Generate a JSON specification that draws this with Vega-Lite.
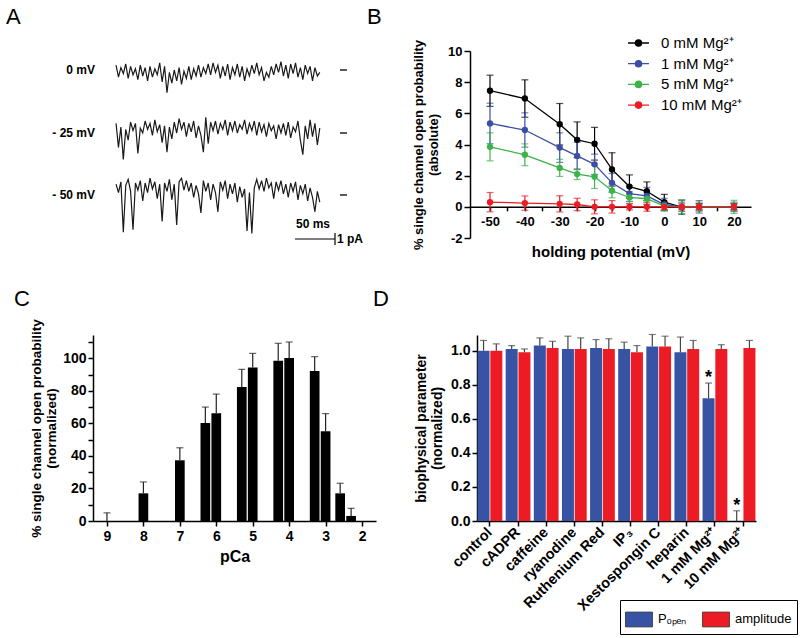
{
"$schema":"https://vega.github.io/schema/vega-lite/v6.json",
"background":"white",
"padding":{"left":6,"top":6,"right":0,"bottom":0},
"config":{
 "font":"Liberation Sans",
 "view":{"stroke":null},
 "axis":{"domainColor":"black","domainWidth":1.5,"tickColor":"black","tickWidth":1.5,"labelColor":"black","labelFontWeight":"bold","labelFontSize":13,"titleColor":"black","titleFontWeight":"bold","grid":false,"labelOverlap":false,"titleLimit":400},
 "text":{"color":"black"}
},
"resolve":{"scale":{"color":"independent"},"legend":{"color":"independent"}},
"datasets":{
 "one":[{}],
 "tr0":[{"t":0,"i":0.4},{"t":3,"i":-0.6},{"t":6,"i":0.2},{"t":9,"i":-0.3},{"t":12,"i":0.5},{"t":15,"i":-0.7},{"t":18,"i":0.3},{"t":21,"i":-0.4},{"t":24,"i":0.1},{"t":27,"i":-0.8},{"t":30,"i":0.4},{"t":33,"i":-0.5},{"t":36,"i":0.2},{"t":39,"i":-0.9},{"t":42,"i":0.3},{"t":45,"i":-0.6},{"t":48,"i":0.1},{"t":51,"i":-0.4},{"t":54,"i":0.6},{"t":57,"i":-1.0},{"t":60,"i":0.3},{"t":63,"i":-1.9},{"t":66,"i":-0.2},{"t":69,"i":-1.1},{"t":72,"i":0.0},{"t":75,"i":-0.9},{"t":78,"i":0.2},{"t":81,"i":-1.2},{"t":84,"i":-0.1},{"t":87,"i":-0.7},{"t":90,"i":0.3},{"t":93,"i":-0.8},{"t":96,"i":0.1},{"t":99,"i":-0.5},{"t":102,"i":0.4},{"t":105,"i":-0.6},{"t":108,"i":0.2},{"t":111,"i":-0.3},{"t":114,"i":0.5},{"t":117,"i":-0.4},{"t":120,"i":0.6},{"t":123,"i":-0.2},{"t":126,"i":0.4},{"t":129,"i":-0.7},{"t":132,"i":0.3},{"t":135,"i":-0.5},{"t":138,"i":0.5},{"t":141,"i":-0.8},{"t":144,"i":0.2},{"t":147,"i":-0.4},{"t":150,"i":0.5},{"t":153,"i":-0.6},{"t":156,"i":0.3},{"t":159,"i":-0.9},{"t":162,"i":0.1},{"t":165,"i":-0.5},{"t":168,"i":0.4},{"t":171,"i":-0.3},{"t":174,"i":0.6},{"t":177,"i":-0.4},{"t":180,"i":0.2},{"t":183,"i":-0.9},{"t":186,"i":-0.2},{"t":189,"i":-0.6},{"t":192,"i":0.3},{"t":195,"i":-0.4},{"t":198,"i":0.5},{"t":201,"i":-0.2},{"t":204,"i":0.7},{"t":207,"i":-0.5},{"t":210,"i":0.4},{"t":213,"i":-0.7},{"t":216,"i":0.5},{"t":219,"i":-0.3},{"t":222,"i":0.6},{"t":225,"i":-0.6},{"t":228,"i":0.2},{"t":231,"i":-0.8},{"t":234,"i":0.4},{"t":237,"i":-0.3},{"t":240,"i":0.3},{"t":243,"i":-0.9},{"t":246,"i":0.2},{"t":249,"i":-0.5},{"t":252,"i":-0.2}],
 "tr25":[{"t":0,"i":0.8},{"t":3,"i":-1.2},{"t":6,"i":0.5},{"t":9,"i":-2.2},{"t":12,"i":0.3},{"t":15,"i":-0.6},{"t":18,"i":0.9},{"t":21,"i":0.2},{"t":24,"i":0.8},{"t":27,"i":-1.7},{"t":30,"i":0.4},{"t":33,"i":0.0},{"t":36,"i":1.0},{"t":39,"i":0.3},{"t":42,"i":0.8},{"t":45,"i":-0.2},{"t":48,"i":1.1},{"t":51,"i":0.1},{"t":54,"i":0.7},{"t":57,"i":-0.8},{"t":60,"i":0.6},{"t":63,"i":-1.6},{"t":66,"i":0.5},{"t":69,"i":-0.5},{"t":72,"i":0.9},{"t":75,"i":0.0},{"t":78,"i":1.2},{"t":81,"i":0.3},{"t":84,"i":0.9},{"t":87,"i":-0.3},{"t":90,"i":0.8},{"t":93,"i":0.1},{"t":96,"i":1.0},{"t":99,"i":-0.4},{"t":102,"i":0.6},{"t":105,"i":-0.2},{"t":108,"i":-1.6},{"t":111,"i":1.3},{"t":114,"i":-0.9},{"t":117,"i":0.9},{"t":120,"i":0.2},{"t":123,"i":1.0},{"t":126,"i":-0.1},{"t":129,"i":0.8},{"t":132,"i":0.3},{"t":135,"i":1.1},{"t":138,"i":-0.2},{"t":141,"i":0.9},{"t":144,"i":0.2},{"t":147,"i":1.0},{"t":150,"i":0.0},{"t":153,"i":0.7},{"t":156,"i":0.3},{"t":159,"i":1.1},{"t":162,"i":-0.1},{"t":165,"i":0.8},{"t":168,"i":0.2},{"t":171,"i":1.0},{"t":174,"i":-0.2},{"t":177,"i":0.9},{"t":180,"i":0.1},{"t":183,"i":0.7},{"t":186,"i":-0.3},{"t":189,"i":0.8},{"t":192,"i":0.2},{"t":195,"i":0.6},{"t":198,"i":-0.5},{"t":201,"i":0.7},{"t":204,"i":0.0},{"t":207,"i":0.8},{"t":210,"i":-0.2},{"t":213,"i":0.9},{"t":216,"i":-0.4},{"t":219,"i":0.5},{"t":222,"i":0.1},{"t":225,"i":1.0},{"t":228,"i":-0.6},{"t":231,"i":-1.8},{"t":234,"i":0.6},{"t":237,"i":-0.5},{"t":240,"i":1.1},{"t":243,"i":-0.3},{"t":246,"i":0.8},{"t":249,"i":-1.0},{"t":252,"i":0.4}],
 "tr50":[{"t":0,"i":0.9},{"t":3,"i":0.2},{"t":6,"i":1.1},{"t":9,"i":-3.1},{"t":12,"i":0.8},{"t":15,"i":1.3},{"t":18,"i":0.3},{"t":21,"i":-2.9},{"t":24,"i":1.0},{"t":27,"i":0.4},{"t":30,"i":1.2},{"t":33,"i":-0.5},{"t":36,"i":1.0},{"t":39,"i":0.2},{"t":42,"i":1.4},{"t":45,"i":0.5},{"t":48,"i":1.1},{"t":51,"i":-0.3},{"t":54,"i":0.9},{"t":57,"i":-2.2},{"t":60,"i":1.0},{"t":63,"i":0.3},{"t":66,"i":1.3},{"t":69,"i":-0.4},{"t":72,"i":0.9},{"t":75,"i":-2.5},{"t":78,"i":1.1},{"t":81,"i":1.4},{"t":84,"i":0.4},{"t":87,"i":1.2},{"t":90,"i":0.3},{"t":93,"i":1.0},{"t":96,"i":-0.2},{"t":99,"i":0.8},{"t":102,"i":0.1},{"t":105,"i":-1.5},{"t":108,"i":1.2},{"t":111,"i":0.3},{"t":114,"i":1.0},{"t":117,"i":-0.4},{"t":120,"i":0.9},{"t":123,"i":0.2},{"t":126,"i":-1.4},{"t":129,"i":1.1},{"t":132,"i":0.4},{"t":135,"i":1.2},{"t":138,"i":-0.3},{"t":141,"i":0.9},{"t":144,"i":0.1},{"t":147,"i":1.0},{"t":150,"i":-0.6},{"t":153,"i":0.7},{"t":156,"i":-0.2},{"t":159,"i":0.5},{"t":162,"i":-3.0},{"t":165,"i":0.2},{"t":168,"i":-3.2},{"t":171,"i":0.6},{"t":174,"i":1.3},{"t":177,"i":0.5},{"t":180,"i":1.2},{"t":183,"i":0.3},{"t":186,"i":1.4},{"t":189,"i":0.6},{"t":192,"i":1.0},{"t":195,"i":-0.3},{"t":198,"i":1.1},{"t":201,"i":0.4},{"t":204,"i":1.2},{"t":207,"i":0.1},{"t":210,"i":0.9},{"t":213,"i":-0.2},{"t":216,"i":1.0},{"t":219,"i":0.3},{"t":222,"i":1.1},{"t":225,"i":-0.4},{"t":228,"i":0.8},{"t":231,"i":0.1},{"t":234,"i":0.9},{"t":237,"i":-0.5},{"t":240,"i":0.6},{"t":243,"i":-0.2},{"t":246,"i":-1.4},{"t":249,"i":0.3},{"t":252,"i":-0.6}],
 "pb":[
  {"mg":"0 mM Mg²⁺","v":-50,"p":7.45,"e":1.0},{"mg":"0 mM Mg²⁺","v":-40,"p":6.95,"e":1.2},{"mg":"0 mM Mg²⁺","v":-30,"p":5.3,"e":1.33},{"mg":"0 mM Mg²⁺","v":-25,"p":4.3,"e":1.15},{"mg":"0 mM Mg²⁺","v":-20,"p":4.05,"e":1.05},{"mg":"0 mM Mg²⁺","v":-15,"p":2.4,"e":1.07},{"mg":"0 mM Mg²⁺","v":-10,"p":1.3,"e":0.75},{"mg":"0 mM Mg²⁺","v":-5,"p":1.0,"e":0.6},{"mg":"0 mM Mg²⁺","v":0,"p":0.3,"e":0.5},{"mg":"0 mM Mg²⁺","v":5,"p":-0.02,"e":0.45},{"mg":"0 mM Mg²⁺","v":10,"p":0,"e":0.2},{"mg":"0 mM Mg²⁺","v":20,"p":0,"e":0.2},
  {"mg":"1 mM Mg²⁺","v":-50,"p":5.35,"e":1.3},{"mg":"1 mM Mg²⁺","v":-40,"p":4.93,"e":1.1},{"mg":"1 mM Mg²⁺","v":-30,"p":3.8,"e":0.95},{"mg":"1 mM Mg²⁺","v":-25,"p":3.27,"e":0.88},{"mg":"1 mM Mg²⁺","v":-20,"p":2.73,"e":0.65},{"mg":"1 mM Mg²⁺","v":-15,"p":1.54,"e":0.6},{"mg":"1 mM Mg²⁺","v":-10,"p":0.85,"e":0.5},{"mg":"1 mM Mg²⁺","v":-5,"p":0.7,"e":0.55},{"mg":"1 mM Mg²⁺","v":0,"p":0.15,"e":0.4},{"mg":"1 mM Mg²⁺","v":5,"p":0,"e":0.3},{"mg":"1 mM Mg²⁺","v":10,"p":0,"e":0.4},{"mg":"1 mM Mg²⁺","v":20,"p":0,"e":0.3},
  {"mg":"5 mM Mg²⁺","v":-50,"p":3.85,"e":0.9},{"mg":"5 mM Mg²⁺","v":-40,"p":3.34,"e":0.7},{"mg":"5 mM Mg²⁺","v":-30,"p":2.5,"e":0.55},{"mg":"5 mM Mg²⁺","v":-25,"p":2.1,"e":0.35},{"mg":"5 mM Mg²⁺","v":-20,"p":1.93,"e":0.75},{"mg":"5 mM Mg²⁺","v":-15,"p":1.03,"e":0.45},{"mg":"5 mM Mg²⁺","v":-10,"p":0.6,"e":0.37},{"mg":"5 mM Mg²⁺","v":-5,"p":0.52,"e":0.35},{"mg":"5 mM Mg²⁺","v":0,"p":0.04,"e":0.3},{"mg":"5 mM Mg²⁺","v":5,"p":0,"e":0.45},{"mg":"5 mM Mg²⁺","v":10,"p":0,"e":0.3},{"mg":"5 mM Mg²⁺","v":20,"p":0,"e":0.42},
  {"mg":"10 mM Mg²⁺","v":-50,"p":0.3,"e":0.62},{"mg":"10 mM Mg²⁺","v":-40,"p":0.24,"e":0.46},{"mg":"10 mM Mg²⁺","v":-30,"p":0.19,"e":0.52},{"mg":"10 mM Mg²⁺","v":-25,"p":0.15,"e":0.4},{"mg":"10 mM Mg²⁺","v":-20,"p":0,"e":0.45},{"mg":"10 mM Mg²⁺","v":-15,"p":0,"e":0.4},{"mg":"10 mM Mg²⁺","v":-10,"p":0,"e":0.2},{"mg":"10 mM Mg²⁺","v":-5,"p":0,"e":0.28},{"mg":"10 mM Mg²⁺","v":0,"p":0,"e":0.2},{"mg":"10 mM Mg²⁺","v":5,"p":0,"e":0.2},{"mg":"10 mM Mg²⁺","v":10,"p":0,"e":0.2},{"mg":"10 mM Mg²⁺","v":20,"p":0,"e":0.2}
 ],
 "pc":[{"pca":9,"v":0,"hi":5},{"pca":8,"v":17,"hi":24},{"pca":7,"v":37.3,"hi":45},{"pca":6.3,"v":60.2,"hi":70},{"pca":6.0,"v":66.2,"hi":78},{"pca":5.3,"v":82.4,"hi":93.2},{"pca":5.0,"v":94.3,"hi":103},{"pca":4.3,"v":98.4,"hi":109.2},{"pca":4.0,"v":100.2,"hi":110},{"pca":3.3,"v":92.2,"hi":101},{"pca":3.0,"v":55.1,"hi":66},{"pca":2.6,"v":17,"hi":23.2},{"pca":2.3,"v":3.1,"hi":7.8}],
 "pd":[
  {"cond":"control","s":"Pₒₚₑₙ","v":1.0,"hi":1.06},{"cond":"control","s":"amplitude","v":1.0,"hi":1.04},
  {"cond":"cADPR","s":"Pₒₚₑₙ","v":1.01,"hi":1.03},{"cond":"cADPR","s":"amplitude","v":0.99,"hi":1.01},
  {"cond":"caffeine","s":"Pₒₚₑₙ","v":1.03,"hi":1.075},{"cond":"caffeine","s":"amplitude","v":1.015,"hi":1.055},
  {"cond":"ryanodine","s":"Pₒₚₑₙ","v":1.01,"hi":1.085},{"cond":"ryanodine","s":"amplitude","v":1.01,"hi":1.075},
  {"cond":"Ruthenium Red","s":"Pₒₚₑₙ","v":1.015,"hi":1.065},{"cond":"Ruthenium Red","s":"amplitude","v":1.01,"hi":1.07},
  {"cond":"IP₃","s":"Pₒₚₑₙ","v":1.01,"hi":1.05},{"cond":"IP₃","s":"amplitude","v":0.99,"hi":1.03},
  {"cond":"Xestospongin C","s":"Pₒₚₑₙ","v":1.025,"hi":1.095},{"cond":"Xestospongin C","s":"amplitude","v":1.025,"hi":1.085},
  {"cond":"heparin","s":"Pₒₚₑₙ","v":0.99,"hi":1.08},{"cond":"heparin","s":"amplitude","v":1.01,"hi":1.06},
  {"cond":"1 mM Mg²⁺","s":"Pₒₚₑₙ","v":0.72,"hi":0.81},{"cond":"1 mM Mg²⁺","s":"amplitude","v":1.01,"hi":1.035},
  {"cond":"10 mM Mg²⁺","s":"Pₒₚₑₙ","v":0.0,"hi":0.06},{"cond":"10 mM Mg²⁺","s":"amplitude","v":1.015,"hi":1.06}
 ],
 "pdstar":[{"cond":"1 mM Mg²⁺","s":"Pₒₚₑₙ","v":0.84,"label":"*"},{"cond":"10 mM Mg²⁺","s":"Pₒₚₑₙ","v":0.09,"label":"*"}]
},
"spacing":28,
"vconcat":[
 {"spacing":30,"resolve":{"scale":{"color":"independent"},"legend":{"color":"independent"}},"hconcat":[
  {"width":247,"height":195,
   "resolve":{"scale":{"y":"independent"}},
   "layer":[
    {"layer":[
      {"data":{"name":"tr0"},"mark":{"type":"line","color":"#1a1a1a","strokeWidth":1.2},"encoding":{"x":{"field":"t","type":"quantitative","scale":{"domain":[-28.5,277],"nice":false,"zero":false},"axis":null},"y":{"field":"i","type":"quantitative","scale":{"domain":[-14.667,1.583],"nice":false,"zero":false},"axis":null}}},
      {"data":{"name":"one"},"mark":{"type":"rule","color":"black","strokeWidth":1.3},"encoding":{"x":{"datum":277,"type":"quantitative","scale":{"domain":[-28.5,277],"nice":false,"zero":false},"axis":null},"x2":{"datum":285.7},"y":{"datum":0,"type":"quantitative","scale":{"domain":[-14.667,1.583],"nice":false,"zero":false},"axis":null}}},
      {"data":{"name":"one"},"mark":{"type":"text","align":"right","baseline":"middle","fontWeight":"bold","fontSize":12},"encoding":{"x":{"datum":-26,"type":"quantitative","scale":{"domain":[-28.5,277],"nice":false,"zero":false},"axis":null},"y":{"datum":0,"type":"quantitative","scale":{"domain":[-14.667,1.583],"nice":false,"zero":false},"axis":null},"text":{"value":"0 mV"}}},
      {"data":{"name":"one"},"mark":{"type":"text","align":"left","baseline":"alphabetic","fontSize":22,"fontWeight":"normal"},"encoding":{"x":{"datum":-136.1,"type":"quantitative","scale":{"domain":[-28.5,277],"nice":false,"zero":false},"axis":null},"y":{"datum":3.833,"type":"quantitative","scale":{"domain":[-14.667,1.583],"nice":false,"zero":false},"axis":null},"text":{"value":"A"}}},
      {"data":{"name":"one"},"mark":{"type":"text","align":"left","baseline":"alphabetic","fontSize":22,"fontWeight":"normal"},"encoding":{"x":{"datum":310.4,"type":"quantitative","scale":{"domain":[-28.5,277],"nice":false,"zero":false},"axis":null},"y":{"datum":3.833,"type":"quantitative","scale":{"domain":[-14.667,1.583],"nice":false,"zero":false},"axis":null},"text":{"value":"B"}}}
    ]},
    {"layer":[
      {"data":{"name":"tr25"},"mark":{"type":"line","color":"#1a1a1a","strokeWidth":1.2},"encoding":{"x":{"field":"t","type":"quantitative","scale":{"domain":[-28.5,277],"nice":false,"zero":false},"axis":null},"y":{"field":"i","type":"quantitative","scale":{"domain":[-9.417,6.833],"nice":false,"zero":false},"axis":null}}},
      {"data":{"name":"one"},"mark":{"type":"rule","color":"black","strokeWidth":1.3},"encoding":{"x":{"datum":277,"type":"quantitative","scale":{"domain":[-28.5,277],"nice":false,"zero":false},"axis":null},"x2":{"datum":285.7},"y":{"datum":0,"type":"quantitative","scale":{"domain":[-9.417,6.833],"nice":false,"zero":false},"axis":null}}},
      {"data":{"name":"one"},"mark":{"type":"text","align":"right","baseline":"middle","fontWeight":"bold","fontSize":12},"encoding":{"x":{"datum":-26,"type":"quantitative","scale":{"domain":[-28.5,277],"nice":false,"zero":false},"axis":null},"y":{"datum":0,"type":"quantitative","scale":{"domain":[-9.417,6.833],"nice":false,"zero":false},"axis":null},"text":{"value":"- 25 mV"}}}
    ]},
    {"layer":[
      {"data":{"name":"tr50"},"mark":{"type":"line","color":"#1a1a1a","strokeWidth":1.2},"encoding":{"x":{"field":"t","type":"quantitative","scale":{"domain":[-28.5,277],"nice":false,"zero":false},"axis":null},"y":{"field":"i","type":"quantitative","scale":{"domain":[-4.25,12.0],"nice":false,"zero":false},"axis":null}}},
      {"data":{"name":"one"},"mark":{"type":"rule","color":"black","strokeWidth":1.3},"encoding":{"x":{"datum":277,"type":"quantitative","scale":{"domain":[-28.5,277],"nice":false,"zero":false},"axis":null},"x2":{"datum":285.7},"y":{"datum":0,"type":"quantitative","scale":{"domain":[-4.25,12.0],"nice":false,"zero":false},"axis":null}}},
      {"data":{"name":"one"},"mark":{"type":"text","align":"right","baseline":"middle","fontWeight":"bold","fontSize":12},"encoding":{"x":{"datum":-26,"type":"quantitative","scale":{"domain":[-28.5,277],"nice":false,"zero":false},"axis":null},"y":{"datum":0,"type":"quantitative","scale":{"domain":[-4.25,12.0],"nice":false,"zero":false},"axis":null},"text":{"value":"- 50 mV"}}},
      {"data":{"name":"one"},"mark":{"type":"rule","color":"black","strokeWidth":1.2},"encoding":{"x":{"datum":221.3,"type":"quantitative","scale":{"domain":[-28.5,277],"nice":false,"zero":false},"axis":null},"x2":{"datum":270.8},"y":{"datum":-3.667,"type":"quantitative","scale":{"domain":[-4.25,12.0],"nice":false,"zero":false},"axis":null}}},
      {"data":{"name":"one"},"mark":{"type":"rule","color":"black","strokeWidth":1.2},"encoding":{"x":{"datum":270.8,"type":"quantitative","scale":{"domain":[-28.5,277],"nice":false,"zero":false},"axis":null},"y":{"datum":-3.167,"type":"quantitative","scale":{"domain":[-4.25,12.0],"nice":false,"zero":false},"axis":null},"y2":{"datum":-4.167}}},
      {"data":{"name":"one"},"mark":{"type":"text","align":"center","baseline":"alphabetic","fontWeight":"bold","fontSize":12},"encoding":{"x":{"datum":243.6,"type":"quantitative","scale":{"domain":[-28.5,277],"nice":false,"zero":false},"axis":null},"y":{"datum":-2.75,"type":"quantitative","scale":{"domain":[-4.25,12.0],"nice":false,"zero":false},"axis":null},"text":{"value":"50 ms"}}},
      {"data":{"name":"one"},"mark":{"type":"text","align":"left","baseline":"alphabetic","fontWeight":"bold","fontSize":12},"encoding":{"x":{"datum":273.3,"type":"quantitative","scale":{"domain":[-28.5,277],"nice":false,"zero":false},"axis":null},"y":{"datum":-4.0,"type":"quantitative","scale":{"domain":[-4.25,12.0],"nice":false,"zero":false},"axis":null},"text":{"value":"1 pA"}}}
    ]}
   ]
  },
  {"width":281,"height":187,
   "data":{"name":"pb"},
   "encoding":{
    "x":{"field":"v","type":"quantitative","scale":{"domain":[-55.74,24.88],"nice":false,"zero":false},
         "axis":{"title":"holding potential (mV)","offset":-31.2,"values":[-50,-45,-40,-35,-30,-25,-20,-15,-10,-5,0,5,10,15,20],"labelExpr":"datum.value % 10 == 0 ? replace(datum.label, '\u2212', '-') : ''","tickSize":4,"labelPadding":5,"labelFontSize":13,"titleFontSize":15,"titlePadding":16}},
    "y":{"field":"p","type":"quantitative","scale":{"domain":[-2,10],"nice":false,"zero":false},
         "axis":{"values":[-2,0,2,4,6,8,10],"labelExpr":"replace(datum.label, '\u2212', '-')","title":["% single channel open probability","(absolute)"],"titleFontSize":13,"labelFontSize":13,"tickSize":6,"titlePadding":7}},
    "color":{"field":"mg","type":"nominal",
      "scale":{"domain":["0 mM Mg²⁺","1 mM Mg²⁺","5 mM Mg²⁺","10 mM Mg²⁺"],"range":["#000000","#3a4fa3","#3bb34a","#ec1c24"]},
      "legend":{"orient":"none","legendX":157,"legendY":-19.5,"title":null,"symbolType":"M-1,0H1M-0.3,0A0.3,0.3,0,1,1,0.3,0A0.3,0.3,0,1,1,-0.3,0Z","symbolSize":440,"symbolStrokeWidth":1.3,"symbolOpacity":1,"labelFontSize":15,"labelFontWeight":"normal","labelColor":"black","labelOffset":11,"rowPadding":0.7,"padding":0,
        "encode":{"symbols":{"update":{"fill":{"scale":"color","field":"value"},"stroke":{"scale":"color","field":"value"}}}}}}
   },
   "layer":[
    {"mark":{"type":"errorbar","ticks":true,"size":7,"thickness":1.2},"encoding":{"yError":{"field":"e"}}},
    {"mark":{"type":"line","strokeWidth":1.3}},
    {"mark":{"type":"point","filled":true,"size":40,"opacity":1}}
   ]
  }
 ]},
 {"spacing":25,"resolve":{"scale":{"color":"independent"},"legend":{"color":"independent"}},"hconcat":[
  {"width":283,"height":186,
   "data":{"name":"pc"},
   "encoding":{
    "x":{"field":"pca","type":"quantitative","scale":{"domain":[1.754,9.246],"reverse":true,"nice":false,"zero":false},
         "axis":{"values":[2,3,4,5,6,7,8,9],"format":"d","title":"pCa","titleFontSize":16,"titlePadding":5,"tickSize":5,"labelPadding":3,"labelFontSize":14}},
    "y":{"field":"v","type":"quantitative","scale":{"domain":[0,114.3],"nice":false,"zero":false},
         "axis":{"values":[0,10,20,30,40,50,60,70,80,90,100,110],"labelExpr":"datum.value % 20 == 0 ? datum.label : ''","title":["% single channel open probability","(normalized)"],"titleFontSize":13.5,"labelFontSize":14,"tickSize":5,"titlePadding":4}}
   },
   "layer":[
    {"mark":{"type":"bar","width":9.7,"color":"black"}},
    {"mark":{"type":"rule","color":"#222","strokeWidth":1.2},"encoding":{"y2":{"field":"hi"}}},
    {"mark":{"type":"tick","orient":"horizontal","size":7,"thickness":1.2,"color":"#222"},"encoding":{"y":{"field":"hi","type":"quantitative"}}},
    {"transform":[{"filter":"datum.pca == 9"}],"mark":{"type":"text","align":"left","baseline":"alphabetic","fontSize":22,"fontWeight":"normal"},"encoding":{"x":{"datum":11.55,"type":"quantitative"},"y":{"datum":132.1,"type":"quantitative"},"text":{"value":"C"}}},
    {"transform":[{"filter":"datum.pca == 9"}],"mark":{"type":"text","align":"left","baseline":"alphabetic","fontSize":22,"fontWeight":"normal"},"encoding":{"x":{"datum":1.70,"type":"quantitative"},"y":{"datum":132.1,"type":"quantitative"},"text":{"value":"D"}}}
   ]
  },
  {"width":279,"height":186,
   "encoding":{
    "x":{"field":"cond","type":"nominal","sort":["control","cADPR","caffeine","ryanodine","Ruthenium Red","IP₃","Xestospongin C","heparin","1 mM Mg²⁺","10 mM Mg²⁺"],
         "scale":{"paddingInner":0.12,"paddingOuter":0.02},
         "axis":{"title":null,"labelAngle":-45,"labelAlign":"right","labelBaseline":"middle","labelFontSize":14.5,"tickSize":5,"labelPadding":4}},
    "xOffset":{"field":"s","type":"nominal","scale":{"domain":["Pₒₚₑₙ","amplitude"],"paddingInner":0.06}},
    "y":{"field":"v","type":"quantitative","scale":{"domain":[0,1.092],"nice":false,"zero":false},
         "axis":{"values":[0,0.2,0.4,0.6,0.8,1.0],"labelExpr":"format(datum.value, '.1f')","labelOverlap":false,"title":["biophysical parameter","(normalized)"],"titleFontSize":14,"labelFontSize":14,"tickSize":5,"titlePadding":6}}
   },
   "layer":[
    {"data":{"name":"pd"},"mark":{"type":"bar"},
     "encoding":{
      "color":{"field":"s","type":"nominal","scale":{"domain":["Pₒₚₑₙ","amplitude"],"range":["#3953a4","#ed1c24"]},
        "legend":{"orient":"none","legendX":143,"legendY":265,"direction":"horizontal","title":null,"symbolType":"M-1,-0.55H1V0.55H-1Z","symbolSize":729,"symbolStrokeColor":"#333","symbolStrokeWidth":0.8,"symbolOpacity":1,"labelFontSize":13,"labelFontWeight":"normal","labelColor":"black","labelOffset":5,"columnPadding":13,"padding":5,"strokeColor":"black","fillColor":"white"}}
     }},
    {"data":{"name":"pd"},"mark":{"type":"rule","color":"#444","strokeWidth":1.2},"encoding":{"y2":{"field":"hi"}}},
    {"data":{"name":"pd"},"mark":{"type":"tick","orient":"horizontal","size":7,"thickness":1.2,"color":"#444"},"encoding":{"y":{"field":"hi","type":"quantitative"}}},
    {"data":{"name":"pdstar"},"mark":{"type":"text","fontSize":18,"fontWeight":"bold","baseline":"middle"},"encoding":{"text":{"field":"label"}}}
   ]
  }
 ]}
]
}
